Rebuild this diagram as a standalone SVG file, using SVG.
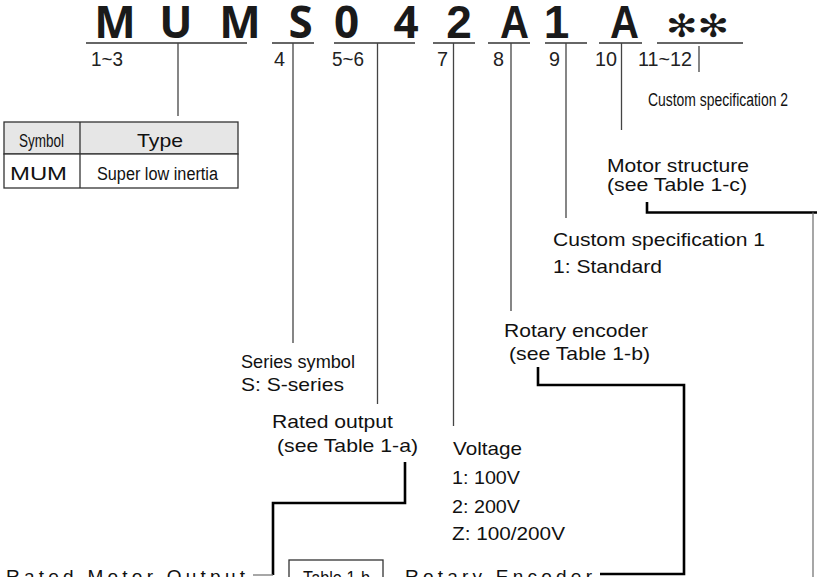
<svg xmlns="http://www.w3.org/2000/svg" width="817" height="577" viewBox="0 0 817 577">
<style>
.big{font-family:"Open Sans","Liberation Sans",sans-serif;font-weight:700;font-size:44px;fill:#1a1a1a;text-anchor:middle}
.big2{font-family:"Liberation Sans",Arial,sans-serif;font-weight:700;font-size:46px;fill:#1a1a1a;text-anchor:middle}
.ast{font-family:"DejaVu Sans",sans-serif;font-size:32px;fill:#1a1a1a}
.num{font-family:"Liberation Sans",Arial,sans-serif;font-size:20px;fill:#222}
.t{font-family:"Liberation Sans",Arial,sans-serif;font-size:19px;fill:#111}
.tn{font-family:"Liberation Sans",Arial,sans-serif;font-size:18px;fill:#111}
.ul{stroke:#333;stroke-width:1.5;fill:none}
.tick{stroke:#444;stroke-width:1.3;fill:none}
.thick{stroke:#000;stroke-width:2.6;fill:none}
.thin{stroke:#777;stroke-width:1.3;fill:none}
.cell{stroke:#333;stroke-width:1.3}
</style>

<g id="code">
<text class="big" x="115" y="38">M</text>
<text class="big" x="176" y="38">U</text>
<text class="big" x="240" y="38">M</text>
<text class="big" x="300.5" y="38">S</text>
<text class="big" x="346.5" y="38">0</text>
<text class="big" x="406" y="38">4</text>
<text class="big2" x="459" y="38">2</text>
<text class="big2" x="500" y="38" textLength="29" lengthAdjust="spacingAndGlyphs" style="text-anchor:start">A</text>
<text class="big2" x="556.5" y="38">1</text>
<text class="big2" x="610" y="38" textLength="29" lengthAdjust="spacingAndGlyphs" style="text-anchor:start">A</text>
<text class="ast" x="666" y="37" textLength="63" lengthAdjust="spacingAndGlyphs">✻✻</text>
</g>

<g id="underlines">
<line class="ul" x1="86" y1="43" x2="247" y2="43"/>
<line class="ul" x1="272" y1="43" x2="314" y2="43"/>
<line class="ul" x1="334" y1="43" x2="415" y2="43"/>
<line class="ul" x1="433" y1="43" x2="475" y2="43"/>
<line class="ul" x1="488" y1="43" x2="530" y2="43"/>
<line class="ul" x1="545" y1="43" x2="587" y2="43"/>
<line class="ul" x1="599" y1="43" x2="642" y2="43"/>
<line class="ul" x1="657" y1="43" x2="743" y2="43"/>
</g>

<g id="position-numbers">
<text class="num" x="91" y="66" textLength="32" lengthAdjust="spacingAndGlyphs">1~3</text>
<text class="num" x="274" y="66" textLength="11" lengthAdjust="spacingAndGlyphs">4</text>
<text class="num" x="332" y="66" textLength="32" lengthAdjust="spacingAndGlyphs">5~6</text>
<text class="num" x="437" y="66" textLength="11" lengthAdjust="spacingAndGlyphs">7</text>
<text class="num" x="493" y="66" textLength="11" lengthAdjust="spacingAndGlyphs">8</text>
<text class="num" x="549" y="66" textLength="11" lengthAdjust="spacingAndGlyphs">9</text>
<text class="num" x="595" y="66" textLength="22" lengthAdjust="spacingAndGlyphs">10</text>
<text class="num" x="638" y="66" textLength="54" lengthAdjust="spacingAndGlyphs">11~12</text>
</g>

<g id="connectors">
<line class="tick" x1="178" y1="43" x2="178" y2="116"/>
<line class="tick" x1="293" y1="43" x2="293" y2="343"/>
<line class="tick" x1="377.5" y1="43" x2="377.5" y2="404"/>
<line class="tick" x1="453.5" y1="43" x2="453.5" y2="426"/>
<line class="tick" x1="511" y1="43" x2="511" y2="311"/>
<line class="tick" x1="566" y1="43" x2="566" y2="218"/>
<line class="tick" x1="621.5" y1="43" x2="621.5" y2="130"/>
<line class="tick" x1="699" y1="46" x2="699" y2="72"/>
<polyline class="thick" points="647,202 647,212.5 817,212.5"/>
<line class="thin" x1="813" y1="212.5" x2="813" y2="577"/>
<polyline class="thick" points="538,367 538,385 684,385 684,574 600,574"/>
<polyline class="thick" points="405,462 405,503 273,503 273,575"/>
<line class="thin" x1="253" y1="575" x2="273" y2="575"/>
</g>

<g id="type-table">
<rect class="cell" x="4" y="122" width="234" height="32" fill="#e6e6e6"/>
<rect class="cell" x="4" y="154" width="234" height="34" fill="#fff"/>
<line class="cell" x1="80" y1="122" x2="80" y2="188"/>
<text class="tn" x="19" y="147" font-size="20" textLength="45" lengthAdjust="spacingAndGlyphs">Symbol</text>
<text class="t" x="137" y="147" font-size="21" textLength="46" lengthAdjust="spacingAndGlyphs">Type</text>
<text class="t" x="10" y="180" font-size="23" textLength="57" lengthAdjust="spacingAndGlyphs">MUM</text>
<text class="tn" x="97" y="180" font-size="20" textLength="121" lengthAdjust="spacingAndGlyphs">Super low inertia</text>
</g>

<g id="custom-spec-2">
<text class="tn" x="648" y="106" textLength="140" lengthAdjust="spacingAndGlyphs">Custom specification 2</text>
</g>

<g id="motor-structure">
<text class="t" x="607" y="172" textLength="142" lengthAdjust="spacingAndGlyphs">Motor structure</text>
<text class="t" x="607" y="191" textLength="140" lengthAdjust="spacingAndGlyphs">(see Table 1-c)</text>
</g>

<g id="custom-spec-1">
<text class="t" x="553" y="246" textLength="212" lengthAdjust="spacingAndGlyphs">Custom specification 1</text>
<text class="t" x="553" y="273" textLength="109" lengthAdjust="spacingAndGlyphs">1: Standard</text>
</g>

<g id="rotary-encoder">
<text class="t" x="504" y="337" textLength="144" lengthAdjust="spacingAndGlyphs">Rotary encoder</text>
<text class="t" x="509" y="360" textLength="141" lengthAdjust="spacingAndGlyphs">(see Table 1-b)</text>
</g>

<g id="series-symbol">
<text class="t" x="241" y="368" font-size="18" textLength="114" lengthAdjust="spacingAndGlyphs">Series symbol</text>
<text class="t" x="241" y="391" font-size="18" textLength="103" lengthAdjust="spacingAndGlyphs">S: S-series</text>
</g>

<g id="rated-output">
<text class="t" x="272" y="428" textLength="121" lengthAdjust="spacingAndGlyphs">Rated output</text>
<text class="t" x="277" y="452" textLength="141" lengthAdjust="spacingAndGlyphs">(see Table 1-a)</text>
</g>

<g id="voltage">
<text class="t" x="453" y="455" font-size="18" textLength="69" lengthAdjust="spacingAndGlyphs">Voltage</text>
<text class="t" x="452" y="484" font-size="18" textLength="68" lengthAdjust="spacingAndGlyphs">1: 100V</text>
<text class="t" x="452" y="513" font-size="18" textLength="68" lengthAdjust="spacingAndGlyphs">2: 200V</text>
<text class="t" x="452" y="540" font-size="18" textLength="113" lengthAdjust="spacingAndGlyphs">Z: 100/200V</text>
</g>

<g id="rated-motor-output">
<text class="t" x="6" y="583" textLength="239">Rated Motor Output</text>
</g>

<g id="table-1b">
<rect x="289" y="560" width="94" height="40" fill="#fff" stroke="#333" stroke-width="1.3"/>
<text class="tn" x="303" y="584" font-size="17" textLength="67" lengthAdjust="spacingAndGlyphs">Table 1-b</text>
</g>

<g id="rotary-encoder-title">
<text class="t" x="405" y="583" textLength="187">Rotary Encoder</text>
</g>
</svg>
